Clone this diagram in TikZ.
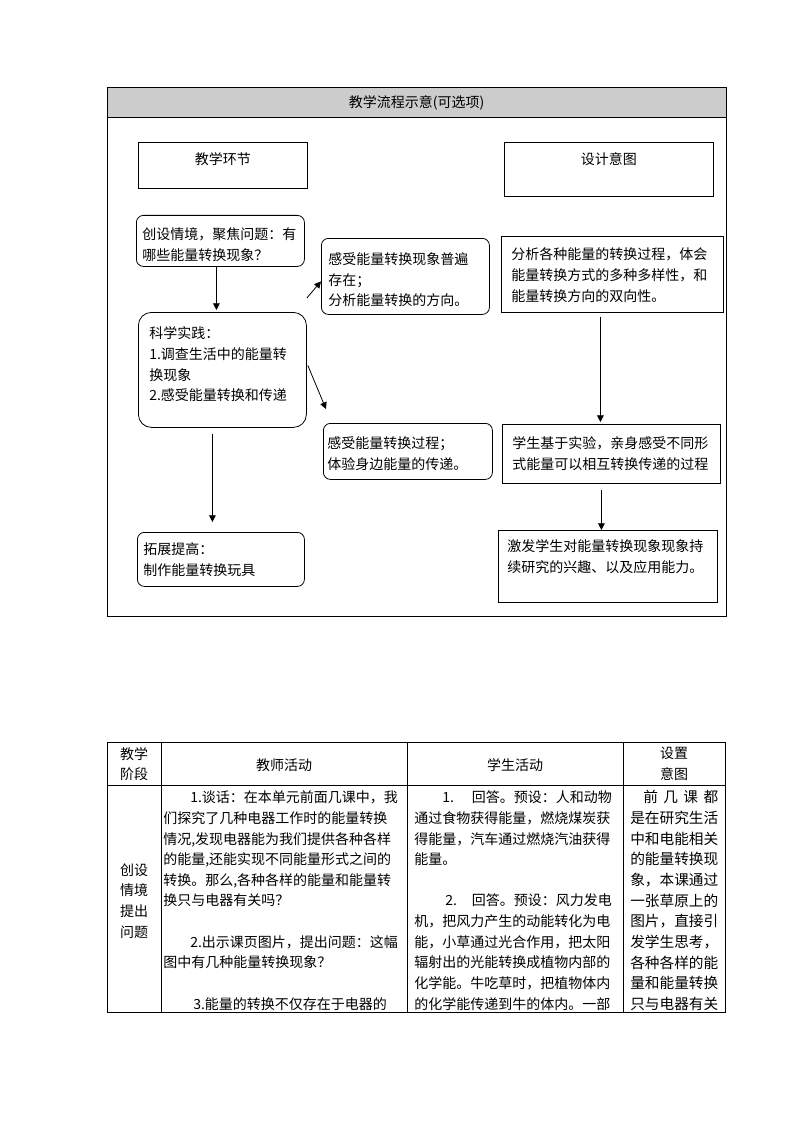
\documentclass[tikz,border=0pt]{standalone}
\usepackage{fontspec}
\newfontfamily\cjk{Noto Sans CJK SC}
\usetikzlibrary{arrows.meta}
\newdimen\px
\px=0.75pt
\tikzset{
  box/.style={draw,line width=0.6pt,anchor=north west,inner sep=0pt},
  rbox/.style={box,rounded corners=7\px},
  txt/.style={anchor=north west,inner sep=0pt,align=left},
  cell/.style={inner sep=0pt,align=center},
  arr/.style={-{Triangle[length=5pt,width=5pt]},line width=0.6pt}
}
\begin{document}
\begin{tikzpicture}[x=0.75pt,y=-0.75pt,font=\cjk\fontsize{10.5pt}{15.49pt}\selectfont]
\useasboundingbox (0,0) rectangle (794,1123);
\fill[gray!40] (107,87) rectangle (726,117);
\draw[line width=0.6pt] (107,87) rectangle (726,616) (107,117) -- (726,117);
\node[cell] (title) at (416.5,103) {教学流程示意(可选项)};

\node[box,minimum width=169\px,minimum height=46\px] (jh) at (138,142) {};
\node[cell] (jh-t) at ([shift={(0,17)}]jh.north) {教学环节};
\node[box,minimum width=209\px,minimum height=54\px] (sj) at (504,142) {};
\node[cell] (sj-t) at ([shift={(0,17)}]sj.north) {设计意图};

\node[rbox,minimum width=168\px,minimum height=51\px] (cs) at (136,215) {};
\node[txt] (cs-t) at ([shift={(6,12.6)}]cs.north west) {创设情境，聚焦问题：有\\哪些能量转换现象？};
\node[rbox,minimum width=168\px,minimum height=76\px] (gs) at (321,238) {};
\node[txt] (gs-t) at ([shift={(7,14.6)}]gs.north west) {感受能量转换现象普遍\\存在；\\分析能量转换的方向。};
\node[box,minimum width=222\px,minimum height=76\px] (fx) at (501,236) {};
\node[txt] (fx-t) at ([shift={(10,11.6)}]fx.north west) {分析各种能量的转换过程，体会\\能量转换方式的多种多样性，和\\能量转换方向的双向性。};

\node[rbox,rounded corners=13\px,minimum width=168\px,minimum height=115\px] (kx) at (138,312) {};
\node[txt] (kx-t) at ([shift={(11,14.6)}]kx.north west) {科学实践：\\1.调查生活中的能量转\\换现象\\2.感受能量转换和传递};
\node[rbox,minimum width=169\px,minimum height=56\px] (gp) at (323,423) {};
\node[txt] (gp-t) at ([shift={(4,13.6)}]gp.north west) {感受能量转换过程；\\体验身边能量的传递。};
\node[box,minimum width=218\px,minimum height=59\px] (xs) at (502,424) {};
\node[txt] (xs-t) at ([shift={(10,12.6)}]xs.north west) {学生基于实验，亲身感受不同形\\式能量可以相互转换传递的过程};

\node[rbox,minimum width=167\px,minimum height=54\px] (tz) at (137,532) {};
\node[txt] (tz-t) at ([shift={(6,10.6)}]tz.north west) {拓展提高：\\制作能量转换玩具};
\node[box,minimum width=219\px,minimum height=72\px] (jf) at (498,530) {};
\node[txt] (jf-t) at ([shift={(9,9.6)}]jf.north west) {激发学生对能量转换现象现象持\\续研究的兴趣、以及应用能力。};

\draw[arr] ([shift={(-4,0)}]cs.south) -- ([shift={(-6,-2)}]kx.north);
\draw[arr] ([shift={(0,-14)}]kx.north east) -- ([shift={(0,5)}]gs.west);
\draw[arr] ([shift={(1,-4.5)}]kx.east) -- ([shift={(3,-14)}]gp.north west);
\draw[arr] ([shift={(-10,6)}]kx.south) -- ([shift={(-8.5,-10)}]tz.north);
\draw[arr] ([shift={(-12,4)}]fx.south) -- ([shift={(-11,-2)}]xs.north);
\draw[arr] ([shift={(-10,6)}]xs.south) -- ([shift={(-6.5,0)}]jf.north);

\draw[line width=0.6pt] (107,742) rectangle (725,1012) (107,785) -- (725,785);
\foreach \x in {161,407,623} \draw[line width=0.6pt] (\x,742) -- (\x,1012);
\node[cell] (h1) at (134,764) {教学\\阶段};
\node[cell] (h2) at (284,765) {教师活动};
\node[cell] (h3) at (515,765) {学生活动};
\node[cell] (h4) at (674,764) {设置\\意图};
\node[cell] (stage) at (134,901) {创设\\情境\\提出\\问题};

\node[txt] (teach) at (163,790.6) {\hspace*{27\px}1.谈话：在本单元前面几课中，我\\们探究了几种电器工作时的能量转换\\情况,发现电器能为我们提供各种各样\\的能量,还能实现不同能量形式之间的\\转换。那么,各种各样的能量和能量转\\换只与电器有关吗？\\ \mbox{}\\\hspace*{27\px}2.出示课页图片，提出问题：这幅\\图中有几种能量转换现象？\\ \mbox{}\\\hspace*{30\px}3.能量的转换不仅存在于电器的};
\node[txt] (stud) at (414,790.6) {\hspace*{28\px}1.\hspace{18\px}回答。预设：人和动物\\通过食物获得能量，燃烧煤炭获\\得能量，汽车通过燃烧汽油获得\\能量。\\ \mbox{}\\\hspace*{31\px}2.\hspace{15\px}回答。预设：风力发电\\机，把风力产生的动能转化为电\\能，小草通过光合作用，把太阳\\辐射出的光能转换成植物内部的\\化学能。牛吃草时，把植物体内\\的化学能传递到牛的体内。一部};
\node[txt,font=\cjk\fontsize{11pt}{15.49pt}\selectfont] (aim) at (630,790.3) {\hspace*{13\px}\makebox[75\px][s]{前\hfil 几\hfil 课\hfil 都}\\是在研究生活\\中和电能相关\\的能量转换现\\象，本课通过\\一张草原上的\\图片，直接引\\发学生思考，\\各种各样的能\\量和能量转换\\只与电器有关};
\end{tikzpicture}
\end{document}
